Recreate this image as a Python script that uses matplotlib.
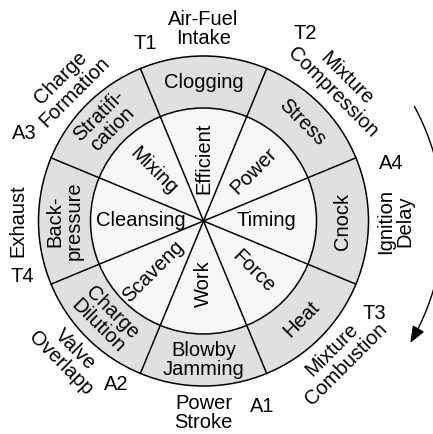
import numpy as np
import matplotlib
matplotlib.use('Agg')
import matplotlib.pyplot as plt
from matplotlib.patches import Wedge, Circle, FancyArrowPatch
from matplotlib.path import Path

plt.rcParams['font.family'] = ['Liberation Sans', 'DejaVu Sans']

# -----------------------
# data (sectors clockwise from the top)
# -----------------------
sector_angles = [90, 45, 0, -45, -90, -135, 180, 135]
inner_labels = ['Efficient', 'Power', 'Timing', 'Force', 'Work', 'Scaveng', 'Cleansing', 'Mixing']
ring_labels = ['Clogging', 'Stress', 'Cnock', 'Heat', 'Blowby\nJamming',
               'Charge\nDilution', 'Back-\npressure', 'Stratifi-\ncation']
phase_labels = ['Air-Fuel\nIntake', 'Mixture\nCompression', 'Ignition\nDelay', 'Mixture\nCombustion',
                'Power\nStroke', 'Valve\nOverlapp', 'Exhaust', 'Charge\nFormation']
boundary_labels = ['T1', 'T2', 'A4', 'T3', 'A1', 'A2', 'T4', 'A3']  # near sector angle + 22.5

# -----------------------
# layout
# -----------------------
W, H = 433, 434
cx, cy = 203.5, H - 221
R_out, R_mid = 165, 113
r_ring_txt, r_phase_txt = 139, 192
# small hand nudges for the boundary tags (angle shift in deg, radius)
bnd_shift = [-4.5, -6, -5.5, -6, -5, -5.5, -5.5, -3.5]
bnd_r = [187, 213, 196, 194, 194, 185, 189, 199]
FS = 14.5
half = 22.5


def pol(r, a):
    t = np.deg2rad(a)
    return cx + r * np.cos(t), cy + r * np.sin(t)


def norm_rot(a):
    a = (a + 180) % 360 - 180
    if a > 90:
        a -= 180
    elif a <= -90:
        a += 180
    return a


fig = plt.figure(figsize=(W / 100, H / 100), dpi=100)
ax = fig.add_axes([0, 0, 1, 1])
ax.set_xlim(0, W)
ax.set_ylim(0, H)
ax.set_aspect('equal')
ax.axis('off')

for a in sector_angles:
    ax.add_patch(Wedge((cx, cy), R_out, a - half, a + half, width=R_out - R_mid,
                       facecolor='#e0e0e0', edgecolor='none'))
    ax.add_patch(Wedge((cx, cy), R_mid, a - half, a + half,
                       facecolor='#f7f7f7', edgecolor='none'))

ax.add_patch(Circle((cx, cy), R_out, fill=False, edgecolor='black', lw=1.1))
ax.add_patch(Circle((cx, cy), R_mid, fill=False, edgecolor='black', lw=1.1))
for a in sector_angles:
    x, y = pol(R_out, a + half)
    ax.plot([cx, x], [cy, y], color='black', lw=1.1)

for a, lab in zip(sector_angles, inner_labels):
    r = 63 if a % 90 == 0 else 71
    x, y = pol(r, a)
    ax.text(x, y, lab, fontsize=FS, ha='center', va='center',
            rotation=norm_rot(a), rotation_mode='anchor')

for a, lab in zip(sector_angles, ring_labels):
    x, y = pol(r_ring_txt, a)
    ax.text(x, y, lab, fontsize=FS, ha='center', va='center', linespacing=1.0,
            rotation=norm_rot(a - 90), rotation_mode='anchor')

for a, lab in zip(sector_angles, phase_labels):
    r = r_phase_txt if '\n' in lab else r_phase_txt - 6
    x, y = pol(r, a)
    ax.text(x, y, lab, fontsize=FS, ha='center', va='center', linespacing=1.05,
            rotation=norm_rot(a - 90), rotation_mode='anchor')

for a, lab, s, r in zip(sector_angles, boundary_labels, bnd_shift, bnd_r):
    x, y = pol(r, a + half + s)
    ax.text(x, y, lab, fontsize=FS, ha='center', va='center')

# direction arrow on the right
th = np.deg2rad(np.linspace(28.5, -30.5, 60))
pts = np.column_stack([cx + 240 * np.cos(th), cy + 240 * np.sin(th)])
arr = FancyArrowPatch(path=Path(pts), arrowstyle='-|>,head_length=10,head_width=4',
                      color='black', lw=1.0)
ax.add_patch(arr)

fig.savefig('out.png', dpi=100)
